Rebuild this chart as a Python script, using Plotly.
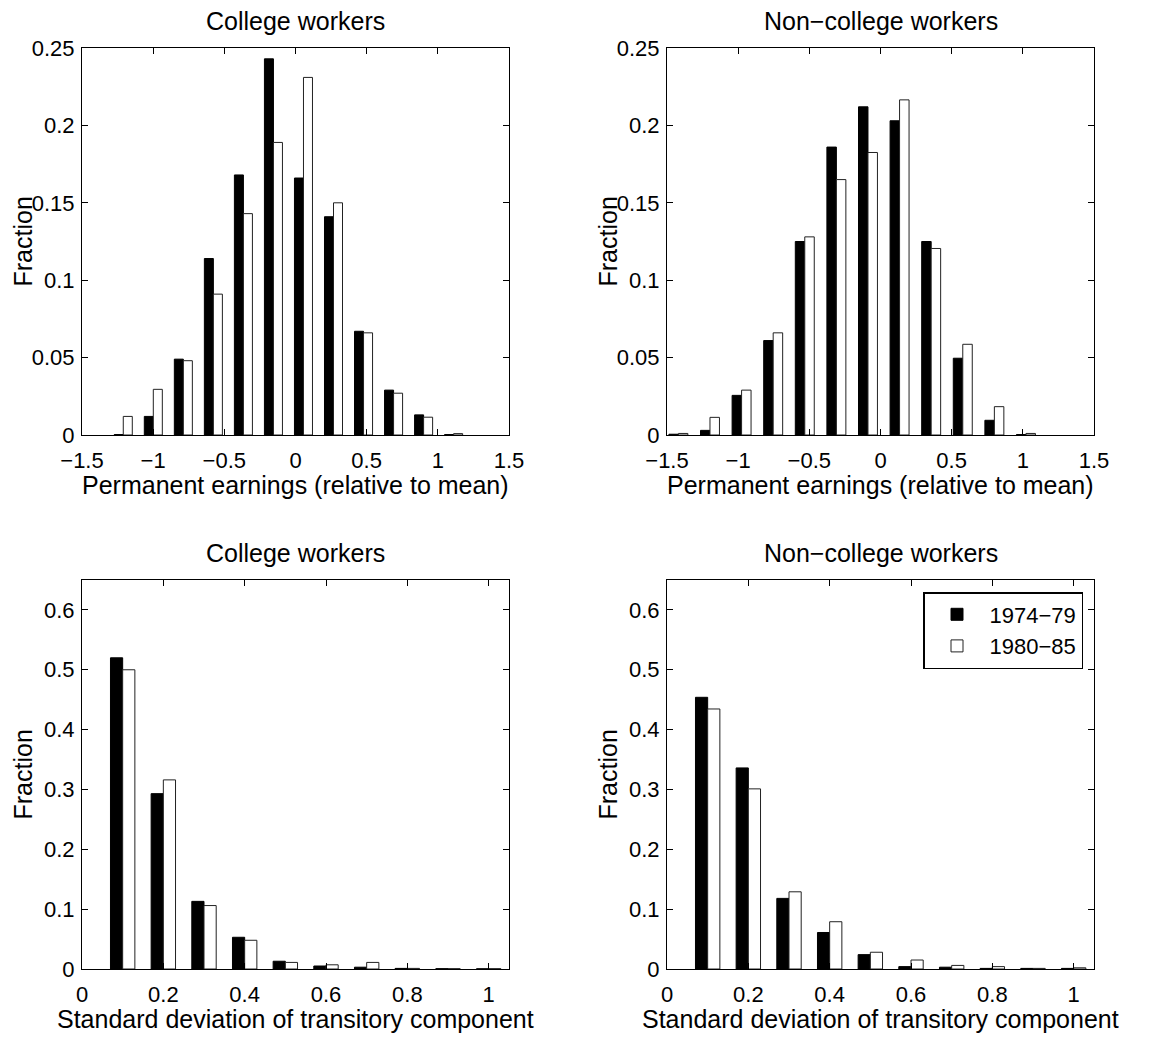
import plotly.graph_objects as go

# ---------------- data ----------------
SERIES = ["1974\u221279", "1980\u221285"]

# Top-left: College workers, permanent earnings (relative to mean)
perm_col_x = [-1.210, -0.999, -0.788, -0.577, -0.366, -0.155, 0.056, 0.267, 0.478, 0.689, 0.900, 1.111]
perm_col_7479 = [0.0003, 0.012, 0.049, 0.114, 0.168, 0.243, 0.166, 0.141, 0.067, 0.029, 0.013, 0.0003]
perm_col_8085 = [0.012, 0.0295, 0.048, 0.091, 0.143, 0.189, 0.231, 0.150, 0.066, 0.027, 0.0115, 0.0009]

# Top-right: Non-college workers, permanent earnings
perm_non_x = [-1.420, -1.198, -0.976, -0.754, -0.532, -0.310, -0.088, 0.134, 0.356, 0.578, 0.800, 1.022]
perm_non_7479 = [0.0005, 0.003, 0.0256, 0.061, 0.125, 0.186, 0.212, 0.203, 0.125, 0.0496, 0.0095, 0.0003]
perm_non_8085 = [0.001, 0.0114, 0.029, 0.066, 0.128, 0.165, 0.1825, 0.2165, 0.1205, 0.0586, 0.0183, 0.001]

# Bottom: standard deviation of transitory component
trans_x = [0.1, 0.2, 0.3, 0.4, 0.5, 0.6, 0.7, 0.8, 0.9, 1.0]
trans_col_7479 = [0.520, 0.293, 0.113, 0.053, 0.013, 0.005, 0.003, 0.001, 0.0005, 0.0003]
trans_col_8085 = [0.500, 0.316, 0.106, 0.048, 0.011, 0.007, 0.011, 0.001, 0.0005, 0.0005]
trans_non_7479 = [0.454, 0.336, 0.118, 0.061, 0.024, 0.004, 0.003, 0.001, 0.001, 0.001]
trans_non_8085 = [0.4345, 0.301, 0.129, 0.079, 0.028, 0.015, 0.006, 0.004, 0.001, 0.002]

TITLES = ["College workers", "Non\u2212college workers", "College workers", "Non\u2212college workers"]
XLAB_TOP = "Permanent earnings (relative to mean)"
XLAB_BOT = "Standard deviation of transitory component"
YLAB = "Fraction"

# ---------------- style ----------------
FONT = "Liberation Sans, Arial, Helvetica, sans-serif"
W, H = 1151, 1044
BAR_FRAC = 0.30
COLORS = ["black", "white"]

# panel pixel boxes (left, right, top, bottom)
PANELS = [(82, 509, 48, 435), (667, 1094, 48, 435), (82, 509, 580, 969), (667, 1094, 580, 969)]

fig = go.Figure()

panel_data = [
    (perm_col_x, perm_col_7479, perm_col_8085),
    (perm_non_x, perm_non_7479, perm_non_8085),
    (trans_x, trans_col_7479, trans_col_8085),
    (trans_x, trans_non_7479, trans_non_8085),
]

for i, (xs, a, b) in enumerate(panel_data):
    sp = (xs[-1] - xs[0]) / (len(xs) - 1)
    w = BAR_FRAC * sp
    ax = "" if i == 0 else str(i + 1)
    for j, (vals, name) in enumerate(zip((a, b), SERIES)):
        fig.add_bar(
            x=xs, y=vals, name=name,
            width=[w] * len(xs), offset=[-w if j == 0 else 0] * len(xs),
            marker=dict(color=COLORS[j], line=dict(color="#222" if j else "black", width=1)),
            xaxis="x" + ax, yaxis="y" + ax,
            showlegend=(i == 3), legendgroup=name,
        )

axis_common = dict(
    showline=True, linecolor="black", linewidth=1.2, mirror="allticks",
    ticks="inside", ticklen=6, tickwidth=1, tickcolor="black",
    showgrid=False, zeroline=False, automargin=False,
    tickfont=dict(family=FONT, size=22, color="black"),
)

layout = dict(
    width=W, height=H, paper_bgcolor="white", plot_bgcolor="white",
    margin=dict(l=0, r=0, t=0, b=0, pad=0), barmode="overlay",
    font=dict(family=FONT, color="black"),
    legend=dict(
        x=1083 / W, xanchor="right", y=1 - 592 / H, yanchor="top",
        bordercolor="black", borderwidth=1.5, bgcolor="white",
        font=dict(family=FONT, size=22, color="black"),
        tracegroupgap=0, itemwidth=55,
    ),
)

annotations = []
for i, (l, r, t, bt) in enumerate(PANELS):
    ax = "" if i == 0 else str(i + 1)
    xd = [l / W, r / W]
    yd = [1 - bt / H, 1 - t / H]
    if i < 2:
        xa = dict(range=[-1.5, 1.5], tickvals=[-1.5, -1, -0.5, 0, 0.5, 1, 1.5])
        ya = dict(range=[0, 0.25], tickvals=[0, 0.05, 0.1, 0.15, 0.2, 0.25])
        xlab = XLAB_TOP
    else:
        xa = dict(range=[0, 1.05], tickvals=[0, 0.2, 0.4, 0.6, 0.8, 1])
        ya = dict(range=[0, 0.65], tickvals=[0, 0.1, 0.2, 0.3, 0.4, 0.5, 0.6])
        xlab = XLAB_BOT
    layout["xaxis" + ax] = dict(domain=xd, anchor="y" + ax, ticklabelstandoff=5, **xa, **axis_common)
    layout["yaxis" + ax] = dict(domain=yd, anchor="x" + ax, ticklabelstandoff=2, **ya, **axis_common)
    cx = (l + r) / 2 / W
    annotations.append(dict(text=TITLES[i], x=cx, y=1 - (t - 27) / H, xref="paper", yref="paper",
                            xanchor="center", yanchor="middle", showarrow=False,
                            font=dict(family=FONT, size=25, color="black")))
    annotations.append(dict(text=xlab, x=cx, y=1 - (bt + 50) / H, xref="paper", yref="paper",
                            xanchor="center", yanchor="middle", showarrow=False,
                            font=dict(family=FONT, size=25, color="black")))
    annotations.append(dict(text=YLAB, x=(l - 60) / W, y=1 - (t + bt) / 2 / H, xref="paper", yref="paper",
                            xanchor="center", yanchor="middle", showarrow=False, textangle=-90,
                            font=dict(family=FONT, size=25, color="black")))

layout["annotations"] = annotations
fig.update_layout(**layout)
fig.write_html("out.html", config={"displayModeBar": False},
               post_script="document.body.style.margin='0';")
